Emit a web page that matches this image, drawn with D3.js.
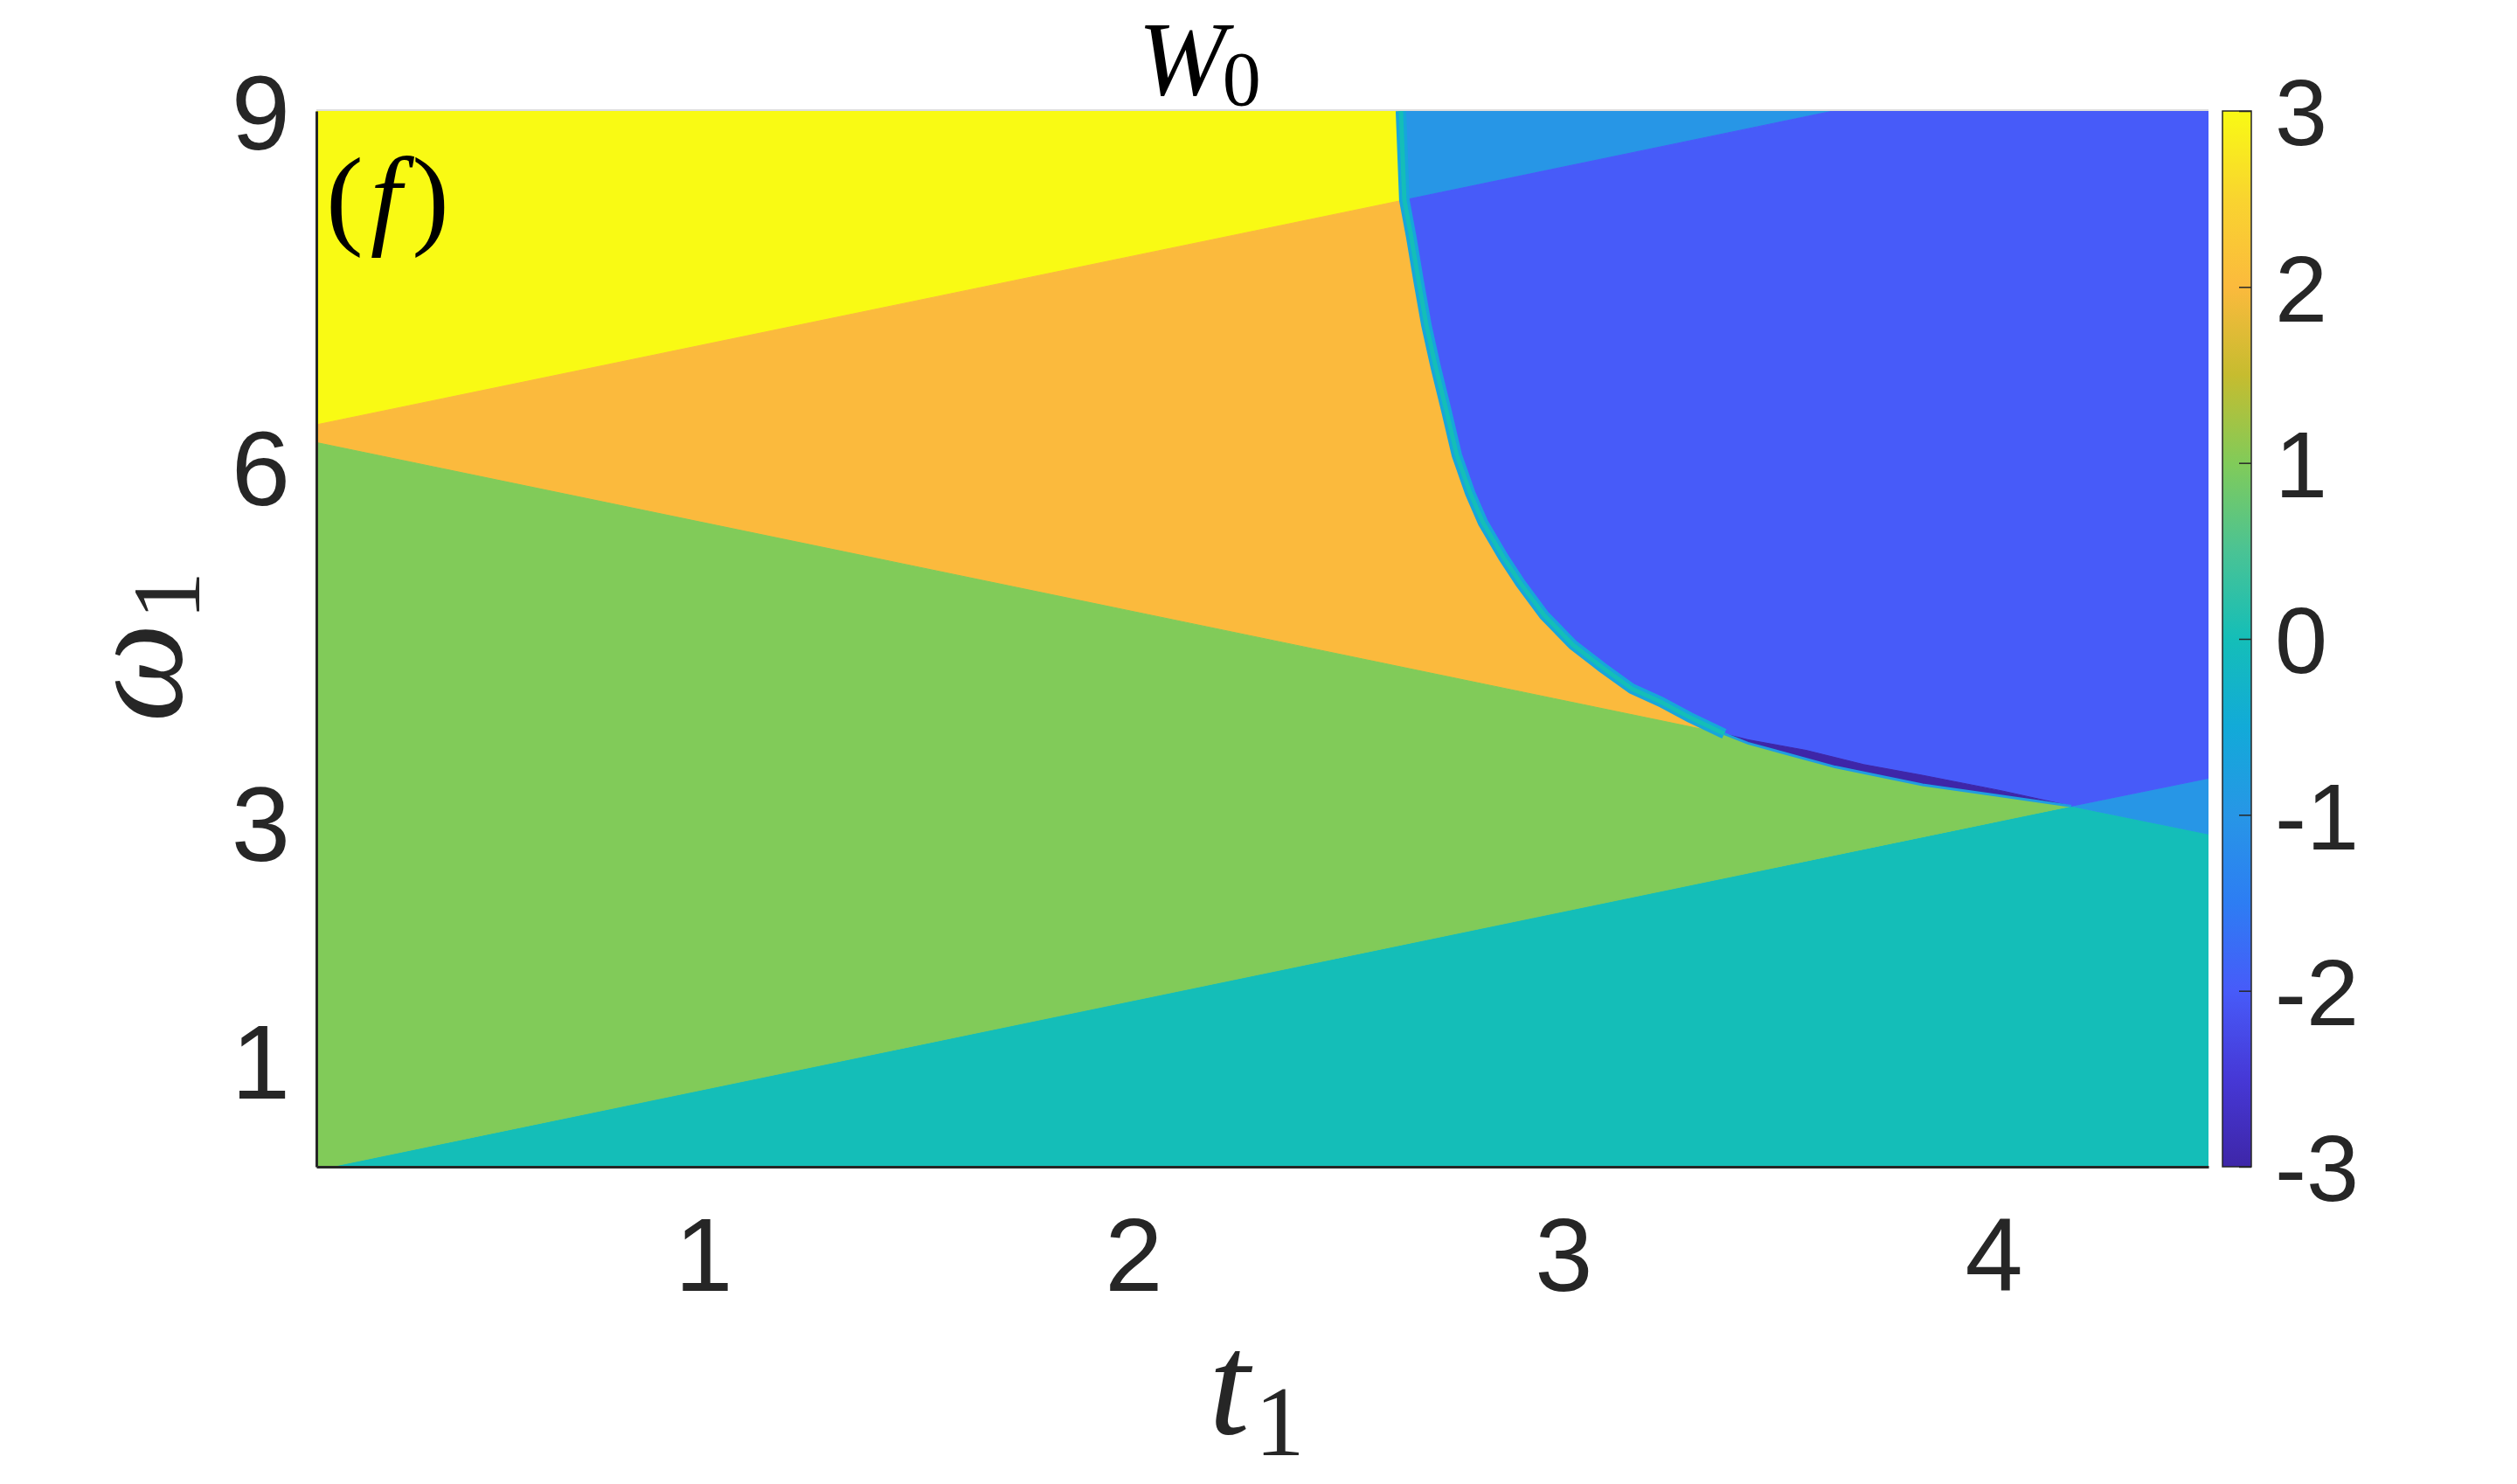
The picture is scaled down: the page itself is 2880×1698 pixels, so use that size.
<!DOCTYPE html>
<html>
<head>
<meta charset="utf-8">
<script src="https://cdn.jsdelivr.net/npm/d3@7"></script>
<style>
  html, body { margin: 0; padding: 0; background: #fff; }
  svg { display: block; }
</style>
</head>
<body>
<div id="chart"></div>
<script>
// Axis ranges and ticks
const xDomain = [0.1, 4.5];
const yDomain = [0.1, 9];
const xTicks = [1, 2, 3, 4];
const yTicks = [1, 3, 6, 9];
const cbarDomain = [-3, 3];
const cbarTicks = [-3, -2, -1, 0, 1, 2, 3];

// parula-like colormap (value -> colour)
const cmapValues = [-3, -2.5, -2, -1.5, -1, -0.5, 0, 0.5, 1, 1.5, 2, 2.5, 3];
const cmapColors = ['#3e26a8', '#4638d6', '#475bf9', '#2d7df3', '#2796e6', '#12aad8',
                    '#14beb8', '#4ac394', '#81cb59', '#c6bc2f', '#fbba3d', '#f9d42f', '#f9fa14'];

// Curved phase boundary (t1, w1), top to bottom
const curvePts = [
  [2.622, 9.0], [2.630, 8.25], [2.646, 7.94], [2.663, 7.57], [2.681, 7.20],
  [2.703, 6.84], [2.728, 6.47], [2.752, 6.10], [2.783, 5.78], [2.813, 5.53],
  [2.860, 5.24], [2.900, 5.02], [2.955, 4.75], [3.022, 4.50], [3.090, 4.31],
  [3.159, 4.13], [3.226, 4.02], [3.293, 3.89], [3.374, 3.75], [3.429, 3.70],
  [3.565, 3.61], [3.699, 3.49], [3.835, 3.40], [4.018, 3.27], [4.181, 3.14]
];
// lower edge of the thin W0 = -3 sliver
const stripLowerPts = [[3.374, 3.75], [3.429, 3.67], [3.632, 3.47], [3.835, 3.32], [4.106, 3.18], [4.181, 3.14]];

// Straight boundaries: end points (t1, w1)
const lineUpper = [[0.1, 6.355], [2.630, 8.25], [3.627, 9.0]];     // yellow/orange, light blue/blue
const lineDown  = [[0.1, 6.205], [3.374, 3.75], [4.181, 3.14], [4.5, 2.905]]; // orange/green, light blue/teal
const lineRise  = [[0.1, 0.075], [4.181, 3.14], [4.5, 3.375]];     // green/teal, blue/light blue

// Region values (W0)
const regionValues = { yellow: 3, orange: 2, green: 1, teal: 0, lightBlue: -1, blue: -2, dark: -3 };

const curveIdx = t => curvePts.findIndex(p => p[0] === t);
const curveUpTo = (a, b) => curvePts.slice(curveIdx(a), curveIdx(b) + 1);

const regions = [
  { v: regionValues.teal, pts: [[0.1, 0.1], [4.5, 0.1], lineDown[3], lineDown[2], lineRise[0], [0.1, 0.1]] },
  { v: regionValues.yellow, pts: [[0.1, 9], lineUpper[0], lineUpper[1], curvePts[0]] },
  { v: regionValues.orange, pts: [lineUpper[0], lineDown[0], lineDown[1]].concat(curveUpTo(2.630, 3.374).reverse()) },
  { v: regionValues.green, pts: [lineRise[0], lineRise[1]].concat(stripLowerPts.slice().reverse(), [lineDown[0]]) },
  { v: regionValues.lightBlue, pts: [curvePts[0], lineUpper[2], lineUpper[1]] },
  { v: regionValues.lightBlue, pts: [lineRise[1], lineRise[2], lineDown[3]] },
  { v: regionValues.blue, pts: [lineUpper[2], [4.5, 9], lineRise[2]].concat(curveUpTo(2.630, 4.181).reverse()) },
  { v: regionValues.dark, pts: curveUpTo(3.374, 4.181).concat(stripLowerPts.slice().reverse()) }
];

// Layout
const W = 2880, H = 1698;
const plot = { left: 362, right: 2527, top: 127, bottom: 1335 };
const cbar = { left: 2543, right: 2576 };
const ink = '#262626';

const svg = d3.select('#chart').append('svg').attr('width', W).attr('height', H);

const x = d3.scaleLinear().domain(xDomain).range([plot.left, plot.right]);
const y = d3.scaleLinear().domain(yDomain).range([plot.bottom, plot.top]);
const color = d3.scaleLinear().domain(cmapValues).range(cmapColors).clamp(true);
const line = d3.line().x(d => x(d[0])).y(d => y(d[1]));

svg.append('clipPath').attr('id', 'plotclip')
  .append('rect')
  .attr('x', plot.left).attr('y', plot.top)
  .attr('width', plot.right - plot.left).attr('height', plot.bottom - plot.top);

const g = svg.append('g').attr('clip-path', 'url(#plotclip)');

g.selectAll('path.region')
  .data(regions)
  .enter().append('path')
  .attr('class', 'region')
  .attr('d', d => line(d.pts) + 'Z')
  .attr('fill', d => color(d.v))
  .attr('stroke', d => color(d.v))
  .attr('stroke-width', 1);

// interpolation fringe along the orange / blue boundary
g.append('path')
  .attr('d', line(curveUpTo(2.622, 3.374)))
  .attr('fill', 'none')
  .attr('stroke', color(-0.6))
  .attr('stroke-width', 12);
g.append('path')
  .attr('d', line(curveUpTo(2.622, 3.374)))
  .attr('fill', 'none')
  .attr('stroke', color(0))
  .attr('stroke-width', 5);
g.append('path')
  .attr('d', line(stripLowerPts))
  .attr('fill', 'none')
  .attr('stroke', color(-0.8))
  .attr('stroke-width', 3);

// Axes
const axisFont = '"Liberation Sans", Arial, Helvetica, sans-serif';

svg.append('line')
  .attr('x1', plot.left).attr('x2', plot.right)
  .attr('y1', plot.top - 1).attr('y2', plot.top - 1)
  .attr('stroke', '#dedede').attr('stroke-width', 2);

const xAxis = svg.append('g')
  .attr('transform', `translate(0,${plot.bottom})`)
  .call(d3.axisBottom(x).tickValues(xTicks).tickSize(0).tickPadding(58).tickFormat(d3.format('d')));
xAxis.select('.domain').attr('stroke', ink).attr('stroke-width', 3);
xAxis.selectAll('text')
  .attr('fill', ink)
  .style('font-family', axisFont)
  .style('font-size', '119px');

const yAxis = svg.append('g')
  .attr('transform', `translate(${plot.left},0)`)
  .call(d3.axisLeft(y).tickValues(yTicks).tickSize(0).tickPadding(30).tickFormat(d3.format('d')));
yAxis.select('.domain').attr('stroke', ink).attr('stroke-width', 3);
yAxis.selectAll('text')
  .attr('fill', ink)
  .attr('dy', '0.36em')
  .style('font-family', axisFont)
  .style('font-size', '121px');

// Colorbar
const cy = d3.scaleLinear().domain(cbarDomain).range([plot.bottom, plot.top]);
const grad = svg.append('defs').append('linearGradient')
  .attr('id', 'cbargrad')
  .attr('x1', 0).attr('y1', 1).attr('x2', 0).attr('y2', 0);
grad.selectAll('stop')
  .data(cmapValues)
  .enter().append('stop')
  .attr('offset', d => (d - cbarDomain[0]) / (cbarDomain[1] - cbarDomain[0]))
  .attr('stop-color', d => color(d));

svg.append('rect')
  .attr('x', cbar.left).attr('y', cy(cbarDomain[1]))
  .attr('width', cbar.right - cbar.left)
  .attr('height', cy(cbarDomain[0]) - cy(cbarDomain[1]))
  .attr('fill', 'url(#cbargrad)')
  .attr('stroke', ink).attr('stroke-width', 1.5);

const cAxis = svg.append('g')
  .attr('transform', `translate(${cbar.right},0)`)
  .call(d3.axisRight(cy).tickValues(cbarTicks).tickSizeInner(-14).tickSizeOuter(0)
    .tickPadding(27).tickFormat(d => String(d)));
cAxis.select('.domain').remove();
cAxis.selectAll('.tick line').attr('stroke', ink).attr('stroke-width', 1.5);
cAxis.selectAll('text')
  .attr('fill', ink)
  .attr('dy', '0.36em')
  .style('font-family', axisFont)
  .style('font-size', '108px');

// Math labels
const mathFont = '"Liberation Serif", "DejaVu Serif", "Times New Roman", serif';

const title = svg.append('text')
  .attr('x', 1302).attr('y', 108)
  .attr('fill', '#000')
  .style('font-family', mathFont)
  .style('font-size', '121px');
title.append('tspan').style('font-style', 'italic').text('W');
title.append('tspan').attr('dy', 12).attr('dx', -4).style('font-size', '88px').text('0');

const panel = svg.append('text')
  .attr('x', 373).attr('y', 268)
  .attr('fill', '#000')
  .style('font-family', mathFont)
  .style('font-size', '128px');
panel.append('tspan').text('(');
panel.append('tspan').attr('dx', 8).style('font-style', 'italic').text('f');
panel.append('tspan').attr('dx', 12).text(')');

const xLabel = svg.append('text')
  .attr('x', 1438).attr('y', 1640)
  .attr('text-anchor', 'middle')
  .attr('fill', ink)
  .style('font-family', mathFont)
  .style('font-size', '168px');
xLabel.append('tspan').style('font-style', 'italic').text('t');
xLabel.append('tspan').attr('dy', 25).attr('dx', 6).style('font-size', '114px').text('1');

const yLabel = svg.append('text')
  .attr('transform', 'translate(207,740) rotate(-90)')
  .attr('text-anchor', 'middle')
  .attr('fill', ink)
  .style('font-family', mathFont)
  .style('font-size', '160px');
yLabel.append('tspan').style('font-style', 'italic').text('ω');
yLabel.append('tspan').attr('dy', 21).attr('dx', 4).style('font-size', '111px').text('1');
</script>
</body>
</html>
